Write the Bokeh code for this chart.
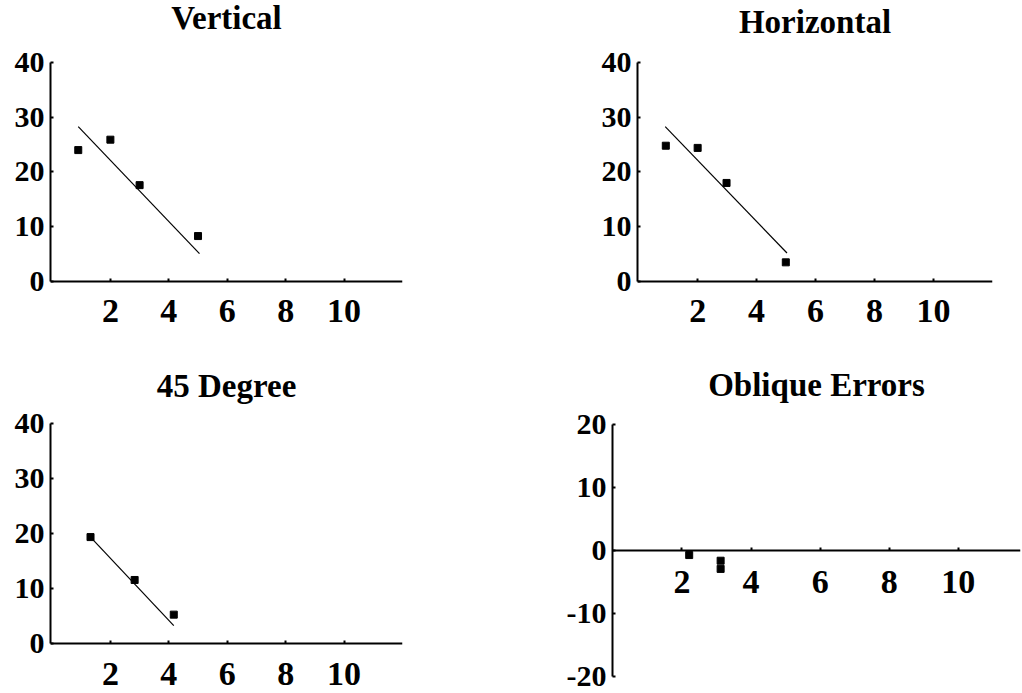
from bokeh.plotting import figure
from bokeh.layouts import column, row
from bokeh.models import FixedTicker, Range1d, Label
from bokeh.embed import file_html
from bokeh.resources import INLINE

# ---- data ----
x_ticks = [2, 4, 6, 8, 10]
y_ticks_fit = [0, 10, 20, 30, 40]
y_ticks_err = [-20, -10, 0, 10, 20]

vert_pts_x = [0.9, 2.0, 3.0, 5.0]
vert_pts_y = [24.0, 25.9, 17.6, 8.3]
vert_line_x = [0.9, 5.05]
vert_line_y = [28.3, 5.1]

horiz_pts_x = [0.92, 2.0, 2.98, 4.99]
horiz_pts_y = [24.8, 24.4, 18.0, 3.5]
horiz_line_x = [0.9, 5.03]
horiz_line_y = [28.3, 5.2]

deg45_pts_x = [1.32, 2.83, 4.17]
deg45_pts_y = [19.4, 11.6, 5.3]
deg45_line_x = [1.32, 4.17]
deg45_line_y = [19.4, 3.3]

oblique_x = [2.21, 3.12, 3.12]
oblique_y = [-0.7, -1.6, -2.9]

FONT = "Liberation Serif"


def make_panel(title, width, height, left, right, x_range, y_range,
               y_bounds, y_ticks, title_gap, xlab_standoff=19):
    p = figure(width=width, height=height, output_backend="svg",
               toolbar_location=None, tools="",
               x_range=Range1d(*x_range), y_range=Range1d(*y_range),
               min_border_left=left, min_border_right=right,
               min_border_top=0, min_border_bottom=0)
    p.outline_line_color = None
    p.xgrid.visible = False
    p.ygrid.visible = False
    p.background_fill_color = "white"
    p.border_fill_color = "white"

    for ax in (p.xaxis[0], p.yaxis[0]):
        ax.axis_line_width = 2
        ax.axis_line_color = "black"
        ax.major_tick_in = 3
        ax.major_tick_out = 0
        ax.major_tick_line_width = 2
        ax.major_tick_line_color = "black"
        ax.minor_tick_line_color = None
        ax.major_label_text_font = FONT
        ax.major_label_text_font_style = "bold"
        ax.major_label_text_color = "black"

    xa = p.xaxis[0]
    xa.ticker = FixedTicker(ticks=x_ticks)
    xa.fixed_location = 0
    xa.major_label_text_font_size = "34px"
    xa.major_label_standoff = xlab_standoff

    ya = p.yaxis[0]
    ya.ticker = FixedTicker(ticks=y_ticks)
    ya.bounds = y_bounds
    ya.major_label_overrides = {t: str(t) for t in y_ticks}
    ya.major_label_text_font_size = "30px"
    ya.major_label_standoff = 6

    p.add_layout(Label(x=(x_range[0] + x_range[1]) / 2, y=y_bounds[1],
                       x_units="data", y_units="data", y_offset=title_gap,
                       text=title, text_align="center",
                       text_baseline="alphabetic", text_font=FONT,
                       text_font_style="bold", text_font_size="33px",
                       text_color="black"))
    return p


p1 = make_panel("Vertical", 560, 364, 50, 158, (-0.05, 12),
                (-15.16, 51.32), (0, 40), y_ticks_fit, 44)
p1.line(vert_line_x, vert_line_y, line_color="black", line_width=1.2)
p1.scatter(vert_pts_x, vert_pts_y, marker="square", size=7,
           fill_color="black", line_color="black")

p2 = make_panel("Horizontal", 462, 364, 77, 30, (-0.04, 12),
                (-15.16, 51.32), (0, 40), y_ticks_fit, 40)
p2.line(horiz_line_x, horiz_line_y, line_color="black", line_width=1.2)
p2.scatter(horiz_pts_x, horiz_pts_y, marker="square", size=7,
           fill_color="black", line_color="black")

p3 = make_panel("45 Degree", 560, 329, 50, 158, (-0.05, 12),
                (-9.04, 50.78), (0, 40), y_ticks_fit, 38)
p3.line(deg45_line_x, deg45_line_y, line_color="black", line_width=1.2)
p3.scatter(deg45_pts_x, deg45_pts_y, marker="square", size=7,
           fill_color="black", line_color="black")

p4 = make_panel("Oblique Errors", 462, 329, 52, 2, (-0.01, 11.8),
                (-22.70, 29.58), (-20, 20), y_ticks_err, 40, xlab_standoff=20)
p4.scatter(oblique_x, oblique_y, marker="square", size=7,
           fill_color="black", line_color="black")

layout = column(row(p1, p2), row(p3, p4))

open("out.html", "w").write(file_html(layout, INLINE))
